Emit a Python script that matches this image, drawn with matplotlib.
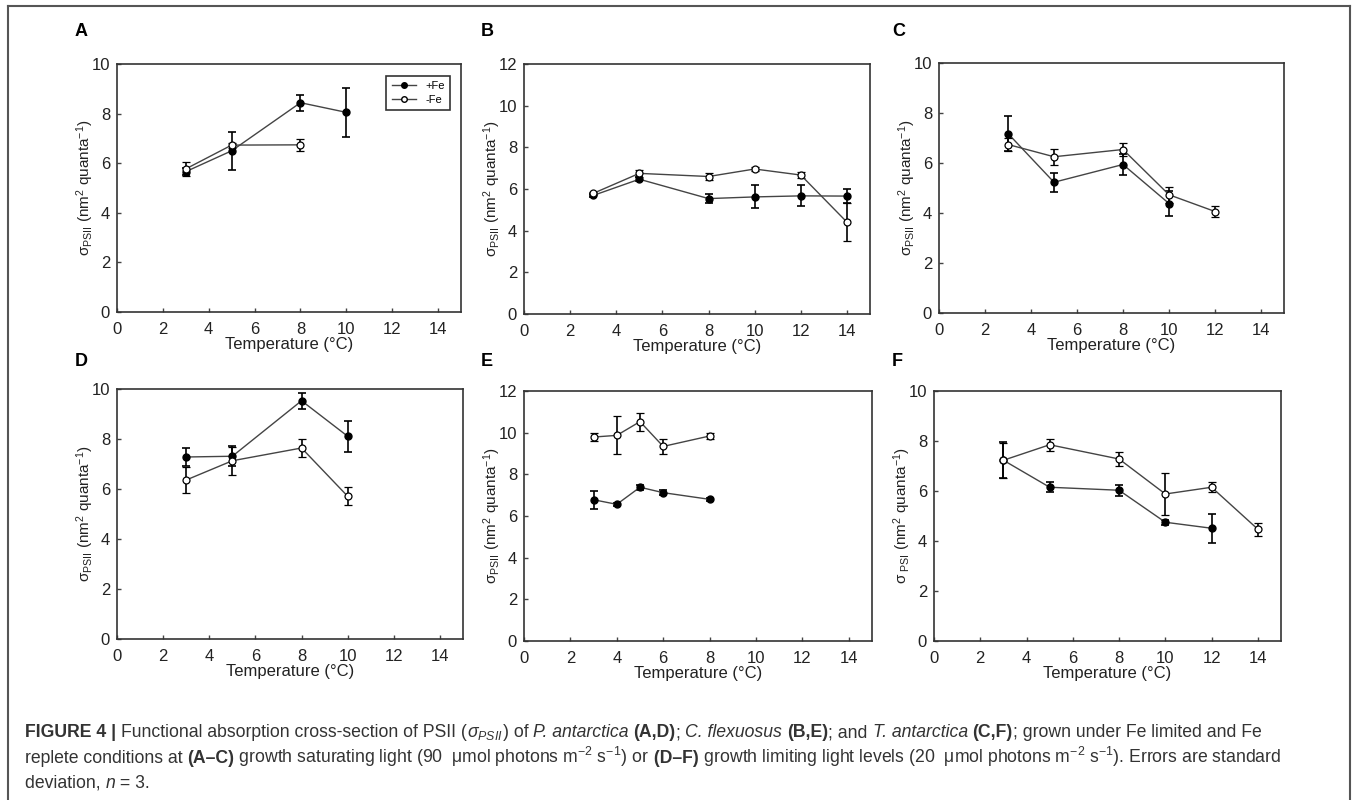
import numpy as np
import matplotlib.pyplot as plt
from matplotlib.lines import Line2D

plt.rcParams['font.family'] = ['Liberation Sans', 'DejaVu Sans']
plt.rcParams['mathtext.fontset'] = 'custom'
plt.rcParams['mathtext.rm'] = 'Liberation Sans'
plt.rcParams['mathtext.it'] = 'Liberation Sans:italic'
plt.rcParams['mathtext.bf'] = 'Liberation Sans:bold'

# ---- data ----
# A: P. antarctica, saturating light
a_x_fe = [3, 5, 8, 10]
a_fe = [5.66, 6.50, 8.44, 8.05]
a_fe_sd = [0.15, 0.77, 0.33, 1.00]
a_x_nofe = [3, 5, 8]
a_nofe = [5.77, 6.73, 6.74]
a_nofe_sd = [0.28, 0.10, 0.23]

# B: C. flexuosus, saturating light
b_x_fe = [3, 5, 8, 10, 12, 14]
b_fe = [5.69, 6.47, 5.54, 5.62, 5.67, 5.66]
b_fe_sd = [0.08, 0.10, 0.22, 0.55, 0.50, 0.32]
b_x_nofe = [3, 5, 8, 10, 12, 14]
b_nofe = [5.79, 6.75, 6.60, 6.96, 6.67, 4.41]
b_nofe_sd = [0.08, 0.17, 0.15, 0.08, 0.13, 0.92]

# C: T. antarctica, saturating light
c_x_fe = [3, 5, 8, 10]
c_fe = [7.18, 5.23, 5.94, 4.38]
c_fe_sd = [0.71, 0.37, 0.42, 0.50]
c_x_nofe = [3, 5, 8, 10, 12]
c_nofe = [6.74, 6.25, 6.54, 4.73, 4.06]
c_nofe_sd = [0.27, 0.31, 0.25, 0.31, 0.22]

# D: P. antarctica, limiting light
d_x_fe = [3, 5, 8, 10]
d_fe = [7.28, 7.31, 9.53, 8.11]
d_fe_sd = [0.36, 0.40, 0.32, 0.63]
d_x_nofe = [3, 5, 8, 10]
d_nofe = [6.36, 7.13, 7.64, 5.71]
d_nofe_sd = [0.52, 0.56, 0.35, 0.36]

# E: C. flexuosus, limiting light
e_x_fe = [3, 4, 5, 6, 8]
e_fe = [6.78, 6.56, 7.38, 7.12, 6.80]
e_fe_sd = [0.44, 0.06, 0.12, 0.12, 0.06]
e_x_nofe = [3, 4, 5, 6, 8]
e_nofe = [9.79, 9.87, 10.53, 9.34, 9.84]
e_nofe_sd = [0.18, 0.91, 0.43, 0.34, 0.13]

# F: T. antarctica, limiting light
f_x_fe = [3, 5, 8, 10, 12]
f_fe = [7.23, 6.15, 6.03, 4.75, 4.51]
f_fe_sd = [0.72, 0.20, 0.23, 0.10, 0.57]
f_x_nofe = [3, 5, 8, 10, 12, 14]
f_nofe = [7.23, 7.85, 7.28, 5.88, 6.15, 4.47]
f_nofe_sd = [0.70, 0.24, 0.27, 0.85, 0.20, 0.27]

W, H = 1357, 800
fig = plt.figure(figsize=(W / 100, H / 100), dpi=100)

txt = '#222222'
ylab = r'$\mathrm{\sigma}_{\mathrm{PSII}}$ (nm$^2$ quanta$^{-1}$)'
ylab_f = r'$\mathrm{\sigma}_{\ \mathrm{PSI}}$ (nm$^2$ quanta$^{-1}$)'

panels = [
    ('A', (117, 64, 461, 312), 10, a_x_fe, a_fe, a_fe_sd, a_x_nofe, a_nofe, a_nofe_sd, ylab, (75, 32)),
    ('B', (524, 64, 870, 314), 12, b_x_fe, b_fe, b_fe_sd, b_x_nofe, b_nofe, b_nofe_sd, ylab, (481, 32)),
    ('C', (939, 63, 1284, 313), 10, c_x_fe, c_fe, c_fe_sd, c_x_nofe, c_nofe, c_nofe_sd, ylab, (892, 32)),
    ('D', (117, 389, 463, 639), 10, d_x_fe, d_fe, d_fe_sd, d_x_nofe, d_nofe, d_nofe_sd, ylab, (75, 362)),
    ('E', (524, 391, 872, 641), 12, e_x_fe, e_fe, e_fe_sd, e_x_nofe, e_nofe, e_nofe_sd, ylab, (481, 362)),
    ('F', (934, 391, 1281, 641), 10, f_x_fe, f_fe, f_fe_sd, f_x_nofe, f_nofe, f_nofe_sd, ylab_f, (892, 362)),
]

for (lab, (l, t, r, b), ymax, xf, yf, ef, xn, yn, en, ylabel, (lx, ly)) in panels:
    ax = fig.add_axes([l / W, 1 - b / H, (r - l) / W, (b - t) / H])
    ax.errorbar(xf, yf, yerr=ef, color='#444444', lw=1, marker='o', ms=5,
                mfc='black', mec='black', ecolor='black', elinewidth=1.2,
                capsize=3, capthick=1.2, zorder=3)
    ax.errorbar(xn, yn, yerr=en, color='#444444', lw=1, marker='o', ms=5,
                mfc='white', mec='black', mew=0.9, ecolor='black', elinewidth=1.2,
                capsize=3, capthick=1.2, zorder=4)
    ax.set_xlim(0, 15)
    ax.set_ylim(0, ymax)
    ax.set_xticks(range(0, 15, 2))
    ax.set_yticks(range(0, ymax + 1, 2))
    ax.tick_params(direction='in', length=3, width=1, labelsize=12,
                   labelcolor=txt, color='#444444', pad=5)
    ax.tick_params(axis='x', pad=7)
    for s in ax.spines.values():
        s.set_color('#333333')
        s.set_linewidth(1.2)
    ax.set_xlabel('Temperature (°C)', fontsize=12, color=txt, labelpad=0.5)
    ax.set_ylabel(ylabel, fontsize=11, color=txt, labelpad=-3)
    fig.text(lx / W, 1 - ly / H, lab, fontsize=13, fontweight='bold',
             ha='left', va='center', color='black')
    if lab == 'A':
        handles = [Line2D([], [], color='#444444', lw=1, marker='o', ms=4,
                          mfc='black', mec='black'),
                   Line2D([], [], color='#444444', lw=1, marker='o', ms=4,
                          mfc='white', mec='black')]
        leg = ax.legend(handles, ['+Fe', '-Fe'], loc='upper right', fontsize=8,
                        frameon=True, fancybox=False, edgecolor='black',
                        handlelength=2.2, borderpad=0.5, labelspacing=0.3,
                        bbox_to_anchor=(0.985, 0.975))
        leg.get_frame().set_linewidth(1.2)

# outer frame
fl = dict(color='#555555', lw=1.5, transform=fig.transFigure)
fig.add_artist(Line2D([8 / W, 8 / W], [0, 1 - 6 / H], **fl))
fig.add_artist(Line2D([8 / W, 1350 / W], [1 - 6 / H, 1 - 6 / H], **fl))
fig.add_artist(Line2D([1350 / W, 1350 / W], [0, 1 - 6 / H], **fl))

# caption, written piece by piece so bold/italic runs sit inline
B = {'fontweight': 'bold'}
I = {'fontstyle': 'italic'}
N = {}
cap_lines = [
    (737, [('FIGURE 4 | ', B), ('Functional absorption cross-section of PSII (', N),
           (r'$\sigma_{PSII}$', N), (') of ', N), ('P. antarctica ', I), ('(A,D)', B),
           ('; ', N), ('C. flexuosus ', I), ('(B,E)', B), ('; and ', N),
           ('T. antarctica ', I), ('(C,F)', B), ('; grown under Fe limited and Fe', N)]),
    (763, [('replete conditions at ', N), ('(A–C)', B),
           (r' growth saturating light (90  μmol photons m$^{-2}$ s$^{-1}$) or', N),
           (' (D–F)', B),
           (r' growth limiting light levels (20  μmol photons m$^{-2}$ s$^{-1}$). Errors are standard', N)]),
    (788, [('deviation, ', N), ('n', I), (' = 3.', N)]),
]
renderer = fig.canvas.get_renderer()
for yb, pieces in cap_lines:
    x = 25
    for s, kw in pieces:
        t = fig.text(x / W, 1 - yb / H, s, fontsize=12.7, color='#333333',
                     ha='left', va='baseline', **kw)
        x += t.get_window_extent(renderer=renderer).width

fig.savefig('out.png', dpi=100)
